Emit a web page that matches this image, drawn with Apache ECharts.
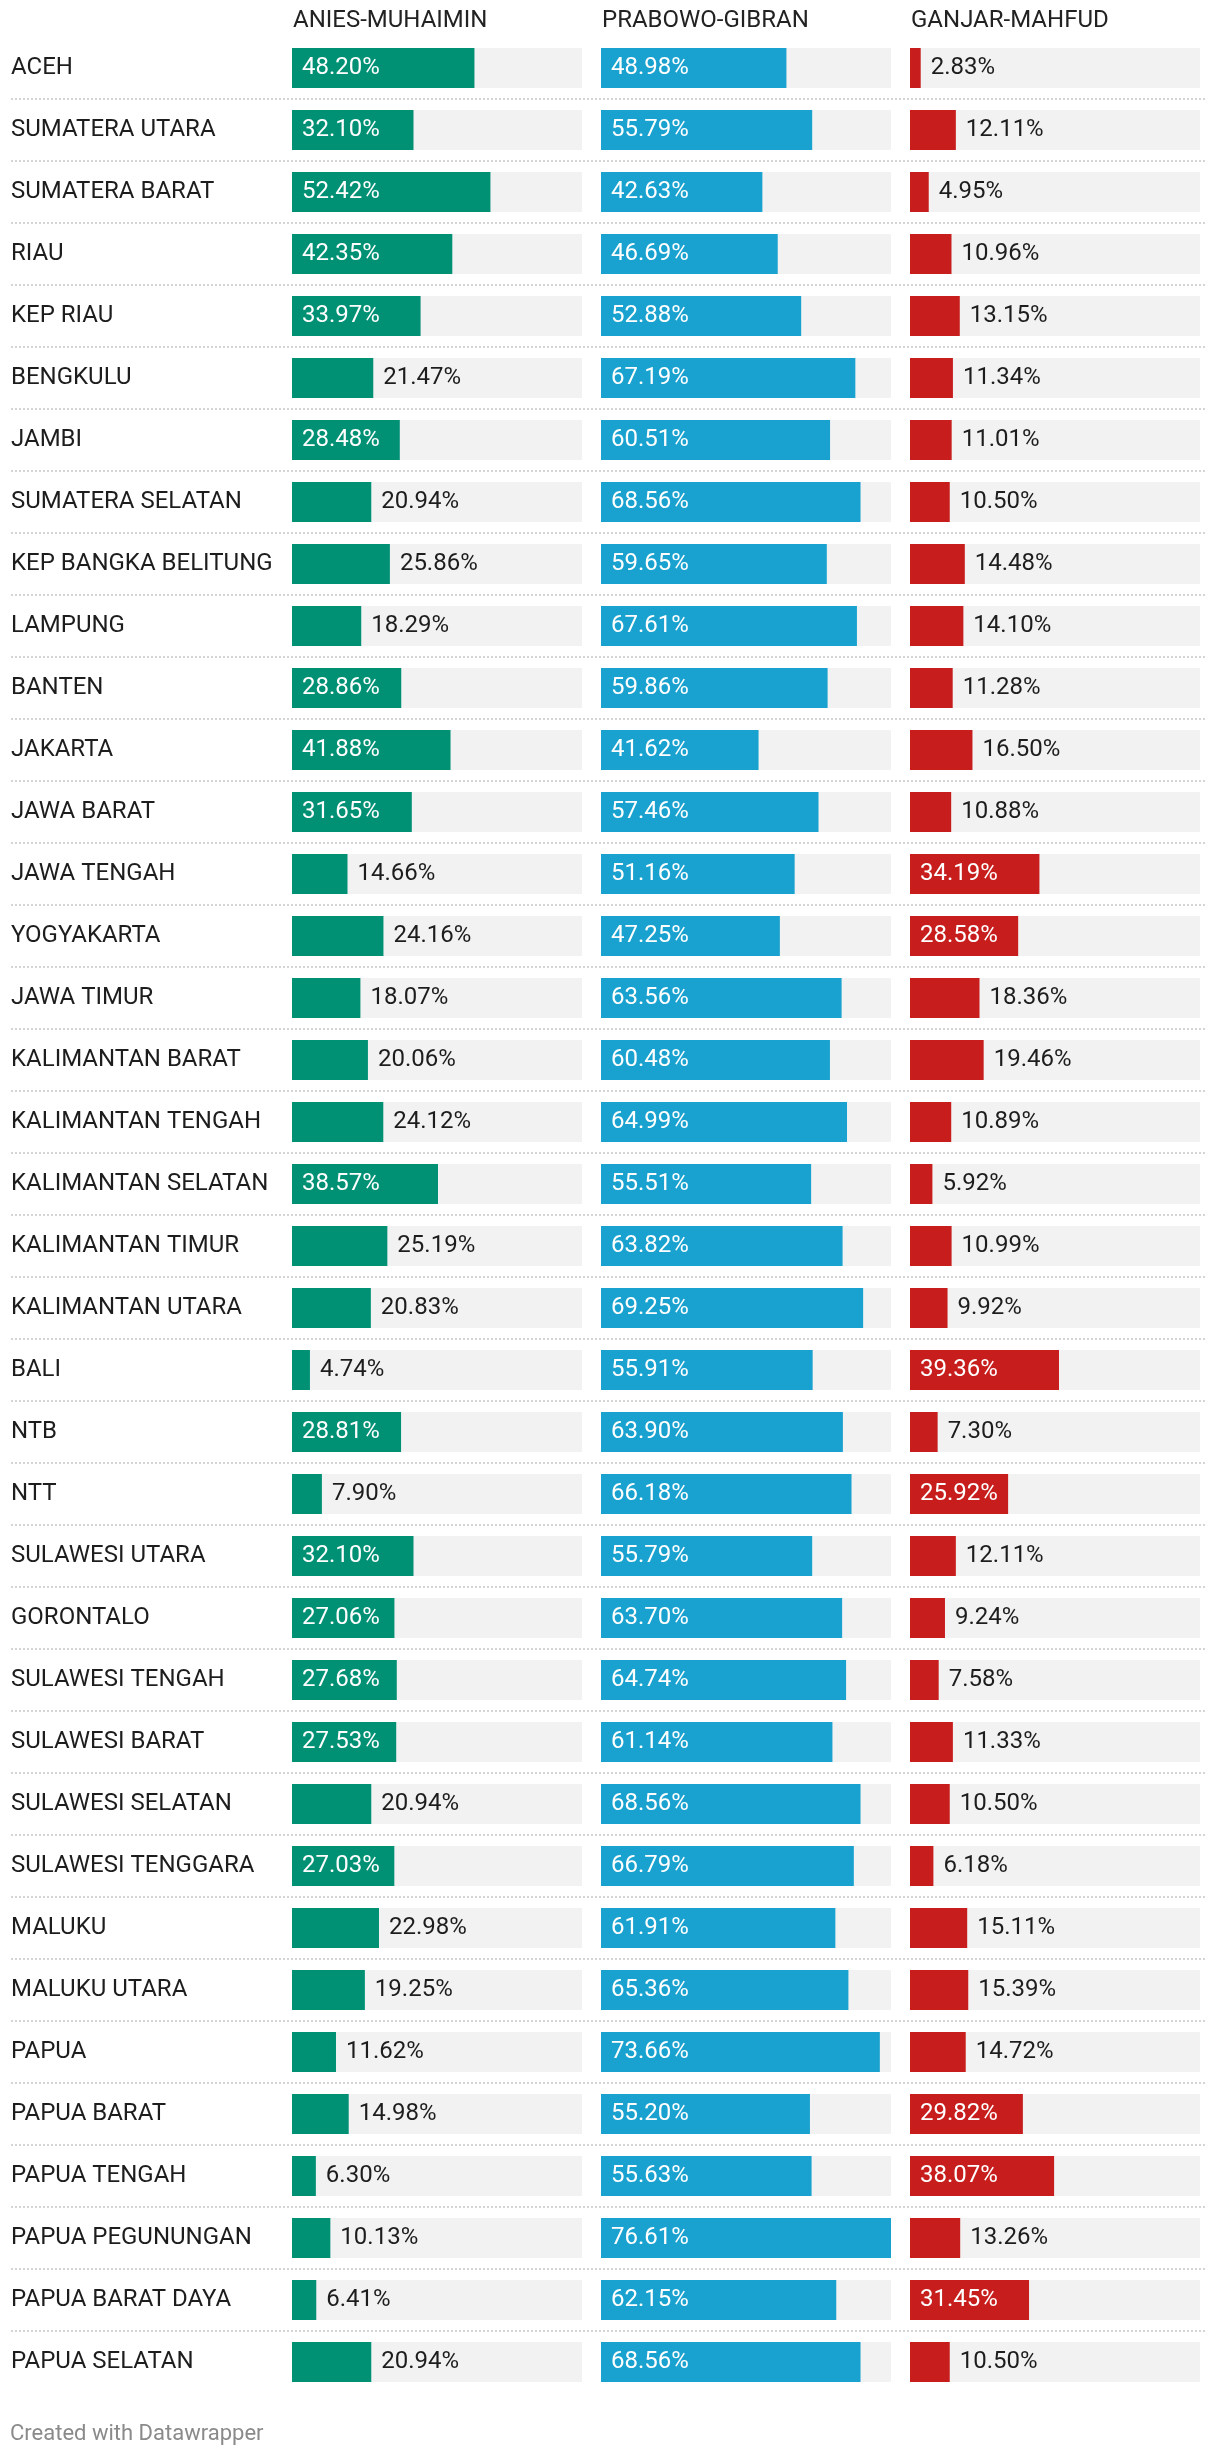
<!DOCTYPE html>
<html>
<head>
<meta charset="utf-8">
<script src="https://cdn.jsdelivr.net/npm/echarts@6/dist/echarts.min.js"></script>
<style>
html,body{margin:0;padding:0;background:#fff;}
#chart{width:1220px;height:2458px;}
</style>
</head>
<body>
<div id="chart"></div>
<script>
var provinces = ["ACEH","SUMATERA UTARA","SUMATERA BARAT","RIAU","KEP RIAU","BENGKULU","JAMBI","SUMATERA SELATAN","KEP BANGKA BELITUNG","LAMPUNG","BANTEN","JAKARTA","JAWA BARAT","JAWA TENGAH","YOGYAKARTA","JAWA TIMUR","KALIMANTAN BARAT","KALIMANTAN TENGAH","KALIMANTAN SELATAN","KALIMANTAN TIMUR","KALIMANTAN UTARA","BALI","NTB","NTT","SULAWESI UTARA","GORONTALO","SULAWESI TENGAH","SULAWESI BARAT","SULAWESI SELATAN","SULAWESI TENGGARA","MALUKU","MALUKU UTARA","PAPUA","PAPUA BARAT","PAPUA TENGAH","PAPUA PEGUNUNGAN","PAPUA BARAT DAYA","PAPUA SELATAN"];
var seriesNames = ["ANIES-MUHAIMIN","PRABOWO-GIBRAN","GANJAR-MAHFUD"];
var anies = [48.20,32.10,52.42,42.35,33.97,21.47,28.48,20.94,25.86,18.29,28.86,41.88,31.65,14.66,24.16,18.07,20.06,24.12,38.57,25.19,20.83,4.74,28.81,7.90,32.10,27.06,27.68,27.53,20.94,27.03,22.98,19.25,11.62,14.98,6.30,10.13,6.41,20.94];
var prabowo = [48.98,55.79,42.63,46.69,52.88,67.19,60.51,68.56,59.65,67.61,59.86,41.62,57.46,51.16,47.25,63.56,60.48,64.99,55.51,63.82,69.25,55.91,63.90,66.18,55.79,63.70,64.74,61.14,68.56,66.79,61.91,65.36,73.66,55.20,55.63,76.61,62.15,68.56];
var ganjar = [2.83,12.11,4.95,10.96,13.15,11.34,11.01,10.50,14.48,14.10,11.28,16.50,10.88,34.19,28.58,18.36,19.46,10.89,5.92,10.99,9.92,39.36,7.30,25.92,12.11,9.24,7.58,11.33,10.50,6.18,15.11,15.39,14.72,29.82,38.07,13.26,31.45,10.50];
var colors = ["#009175","#19a2cf","#c71e1d"];
var footerText = "Created with Datawrapper";

var allValues = [anies, prabowo, ganjar];
var maxVal = Math.max.apply(null, anies.concat(prabowo, ganjar));
var insideThreshold = 25.9;

var FONT = "Roboto";
var colLeft = [292, 601, 910];
var colWidth = 290;
var rowH = 62;
var gridTop = 37;
var n = provinces.length;

var grids = [], xAxes = [], yAxes = [], series = [], graphics = [];
for (var c = 0; c < 3; c++) {
  grids.push({left: colLeft[c], top: gridTop, width: colWidth, height: n * rowH, containLabel: false});
  xAxes.push({type: 'value', gridIndex: c, min: 0, max: maxVal, show: false});
  yAxes.push({
    type: 'category', gridIndex: c, data: provinces, inverse: true,
    axisLine: {show: false}, axisTick: {show: false}, splitLine: {show: false},
    axisLabel: c === 0 ? {show: true, align: 'left', margin: colLeft[0] - 11, color: '#1d1d1d', fontFamily: FONT, fontSize: 24, padding: [2, 0, 0, 0]} : {show: false}
  });
  var data = allValues[c].map(function (v) {
    var inside = v >= insideThreshold;
    return {
      value: v,
      label: inside ? {position: 'insideLeft', distance: 10, color: '#ffffff'} : {position: 'right', distance: 10, color: '#1d1d1d'}
    };
  });
  series.push({
    type: 'bar', xAxisIndex: c, yAxisIndex: c, data: data, barWidth: 40,
    itemStyle: {color: colors[c]},
    showBackground: true, backgroundStyle: {color: '#f2f2f2'},
    silent: true, animation: false,
    label: {show: true, fontFamily: FONT, fontSize: 24, formatter: function (p) { return p.value.toFixed(2) + '%'; }}
  });
  graphics.push({
    type: 'text', left: colLeft[c] + 1, top: 9,
    style: {text: seriesNames[c], fontFamily: FONT, fontSize: 24, fill: '#222222'}
  });
}
// separators grid
grids.push({left: 11, top: gridTop + rowH, width: 1196, height: (n - 2) * rowH});
xAxes.push({type: 'value', gridIndex: 3, show: false, min: 0, max: 1});
yAxes.push({
  type: 'value', gridIndex: 3, min: 0, max: n - 2, interval: 1,
  axisLine: {show: false}, axisTick: {show: false}, axisLabel: {show: false},
  splitLine: {show: true, lineStyle: {color: '#d4d4d4', width: 2, type: [2, 2]}}
});
series.push({type: 'scatter', xAxisIndex: 3, yAxisIndex: 3, data: [], silent: true});

graphics.push({
  type: 'text', left: 10, top: 2423,
  style: {text: footerText, fontFamily: FONT, fontSize: 22, fill: '#8a8a8a'}
});

var chart = echarts.init(document.getElementById('chart'), null, {renderer: 'canvas'});
chart.setOption({
  animation: false,
  backgroundColor: '#ffffff',
  grid: grids, xAxis: xAxes, yAxis: yAxes, series: series, graphic: graphics
});
</script>
</body>
</html>
